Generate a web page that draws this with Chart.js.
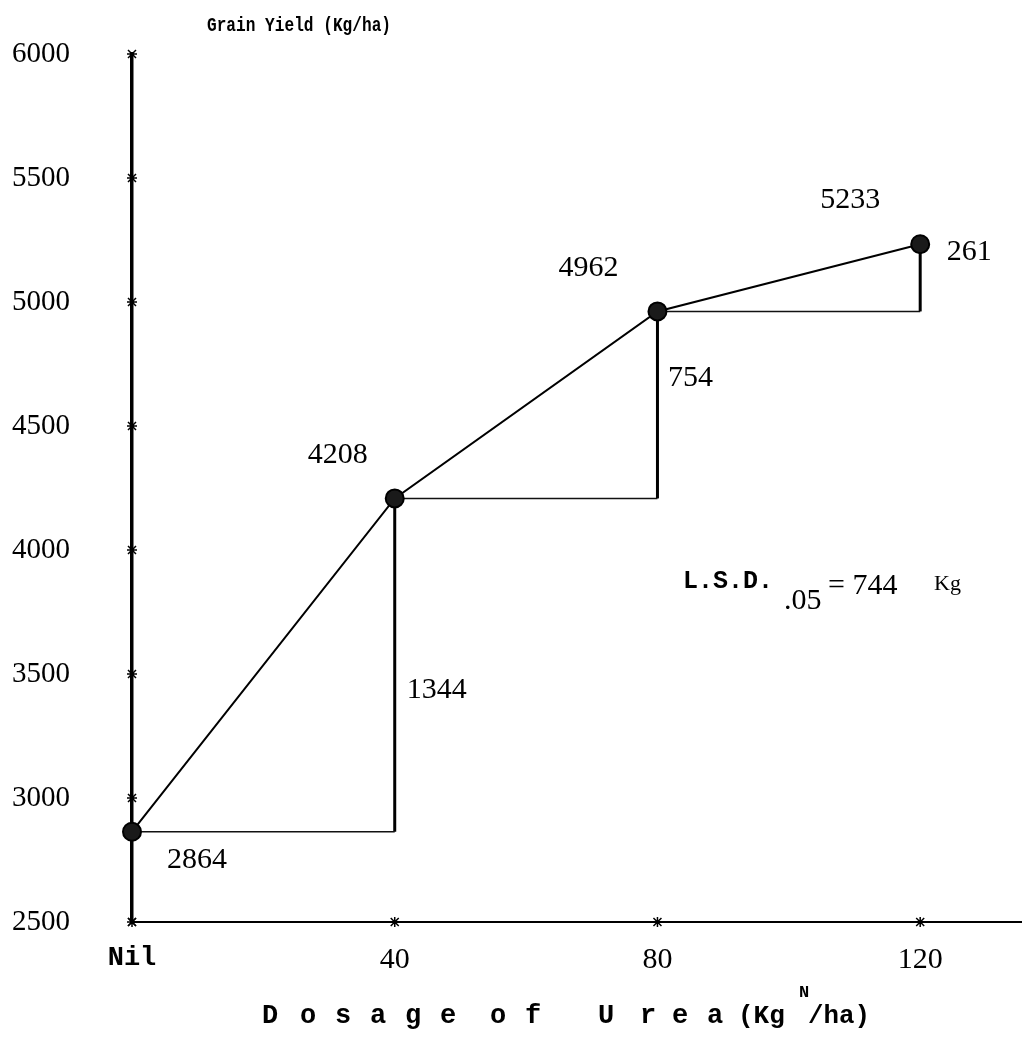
<!DOCTYPE html>
<html>
<head>
<meta charset="utf-8">
<script src="https://cdn.jsdelivr.net/npm/chart.js@4/dist/chart.umd.min.js"></script>
<style>
  html, body { margin: 0; padding: 0; background: #fff; overflow: hidden; }
  #wrap { width: 1022px; height: 1042px; }
  canvas { display: block; }
</style>
</head>
<body>
<div id="wrap"><canvas id="c" width="1022" height="1042"></canvas></div>
<script>
// ---- data ----
const categories = ['Nil', '40', '80', '120'];
const doses = [0, 40, 80, 120];
const yieldValues = [2864, 4208, 4962, 5233];
const increments = [1344, 754, 261];
const yTickValues = [2500, 3000, 3500, 4000, 4500, 5000, 5500, 6000];
const yAxisTitle = 'Grain Yield (Kg/ha)';
const lsdText = ['L.S.D.', '.05', '= 744', 'Kg'];

// ---- styling (not data) ----
const valueLabelOffsets = [[65, 28], [-57, -43], [-69, -43], [-70, -44]];
const incrementLabelOffsets = [[42, 25], [33, -27], [49, -26]];

const mainData = doses.map((d, i) => ({ x: d, y: yieldValues[i] }));
const stepDatasets = [];
for (let i = 0; i < doses.length - 1; i++) {
  stepDatasets.push({
    type: 'line',
    data: [{ x: doses[i], y: yieldValues[i] }, { x: doses[i + 1], y: yieldValues[i] }],
    borderColor: '#111', borderWidth: 1.5, pointRadius: 0, fill: false, tension: 0
  });
  stepDatasets.push({
    type: 'line',
    data: [{ x: doses[i + 1], y: yieldValues[i] }, { x: doses[i + 1], y: yieldValues[i + 1] }],
    borderColor: '#000', borderWidth: 3, pointRadius: 0, fill: false, tension: 0
  });
}

function drawFit(ctx, text, x, y, font, maxW, align) {
  ctx.save();
  ctx.font = font;
  const w = ctx.measureText(text).width;
  const s = maxW && w > maxW ? maxW / w : 1;
  ctx.translate(x, y);
  ctx.scale(s, 1);
  ctx.textAlign = align || 'left';
  ctx.fillText(text, 0, 0);
  ctx.restore();
}

const decorPlugin = {
  id: 'decor',
  afterDatasetsDraw(chart) {
    const ctx = chart.ctx;
    const xs = chart.scales.x, ys = chart.scales.y;
    const area = chart.chartArea;
    ctx.save();
    ctx.fillStyle = '#000';
    ctx.strokeStyle = '#000';
    ctx.lineWidth = 1.5;
    yTickValues.forEach(v => {
      const py = ys.getPixelForValue(v);
      const px = area.left;
      ctx.beginPath();
      ctx.moveTo(px - 5, py); ctx.lineTo(px + 5, py);
      ctx.moveTo(px - 4, py - 4); ctx.lineTo(px + 4, py + 4);
      ctx.moveTo(px + 4, py - 4); ctx.lineTo(px - 4, py + 4);
      ctx.stroke();
    });
    doses.forEach(d => {
      const px = xs.getPixelForValue(d);
      const py = area.bottom;
      ctx.beginPath();
      ctx.moveTo(px - 4, py - 4); ctx.lineTo(px + 4, py + 4);
      ctx.moveTo(px + 4, py - 4); ctx.lineTo(px - 4, py + 4);
      ctx.moveTo(px, py - 5); ctx.lineTo(px, py + 5);
      ctx.stroke();
    });
    ctx.textBaseline = 'middle';
    ctx.textAlign = 'center';
    ctx.font = '30px "Liberation Serif", serif';
    yieldValues.forEach((v, i) => {
      const px = xs.getPixelForValue(doses[i]);
      const py = ys.getPixelForValue(v);
      const o = valueLabelOffsets[i];
      ctx.fillText(String(v), px + o[0], py + o[1]);
    });
    increments.forEach((v, i) => {
      const px = xs.getPixelForValue(doses[i + 1]);
      const py = (ys.getPixelForValue(yieldValues[i]) + ys.getPixelForValue(yieldValues[i + 1])) / 2;
      const o = incrementLabelOffsets[i];
      ctx.fillText(String(v), px + o[0], py + o[1]);
    });
    ctx.restore();
  },
  afterDraw(chart) {
    const ctx = chart.ctx;
    ctx.save();
    ctx.fillStyle = '#000';
    ctx.textBaseline = 'alphabetic';
    drawFit(ctx, yAxisTitle, 207, 31, 'bold 21px "Liberation Mono", monospace', 184);
    const f = 'bold 27px "Liberation Mono", monospace';
    const letters = [['D', 262], ['o', 300], ['s', 335], ['a', 370], ['g', 405], ['e', 440],
                     ['o', 490], ['f', 525], ['U', 598], ['r', 640], ['e', 672], ['a', 707]];
    letters.forEach(([t, x]) => drawFit(ctx, t, x, 1023, f, 22));
    drawFit(ctx, '(Kg', 738, 1023, 'bold 26px "Liberation Mono", monospace', 52);
    drawFit(ctx, 'N', 799, 997, 'bold 17px "Liberation Mono", monospace', 12);
    drawFit(ctx, '/ha)', 808, 1023, 'bold 26px "Liberation Mono", monospace', 62);
    drawFit(ctx, lsdText[0], 683, 588, 'bold 25px "Liberation Mono", monospace', 98);
    drawFit(ctx, lsdText[1], 784, 609, '30px "Liberation Serif", serif');
    drawFit(ctx, lsdText[2], 828, 594, '30px "Liberation Serif", serif');
    drawFit(ctx, lsdText[3], 934, 590, '22px "Liberation Serif", serif');
    ctx.restore();
  }
};

function zeroPad(scale) {
  scale.paddingTop = 0; scale.paddingBottom = 0;
  scale.paddingLeft = 0; scale.paddingRight = 0;
}

new Chart(document.getElementById('c'), {
  type: 'line',
  data: {
    datasets: [
      {
        data: mainData,
        borderColor: '#000',
        borderWidth: 2,
        pointRadius: 9,
        pointHoverRadius: 9,
        pointBackgroundColor: '#1a1a1a',
        pointBorderColor: '#000',
        pointBorderWidth: 2,
        fill: false,
        tension: 0,
        clip: false
      },
      ...stepDatasets
    ]
  },
  options: {
    responsive: false,
    animation: false,
    devicePixelRatio: 1,
    layout: { autoPadding: false, padding: { top: 54, right: 0, bottom: 0, left: 0 } },
    plugins: { legend: { display: false }, tooltip: { enabled: false }, title: { display: false } },
    scales: {
      x: {
        type: 'linear',
        min: 0,
        max: 135.5,
        afterBuildTicks: (scale) => { scale.ticks = doses.map(v => ({ value: v })); },
        afterFit: (scale) => { scale.height = 120; zeroPad(scale); },
        grid: { display: true, color: 'transparent', drawTicks: false, drawOnChartArea: false },
        border: { display: true, color: '#000', width: 2 },
        ticks: {
          padding: 20,
          color: '#000',
          autoSkip: false,
          maxRotation: 0,
          callback: (v) => categories[doses.indexOf(v)],
          font: (c) => (c.tick && c.tick.value === 0)
            ? { family: '"Liberation Mono", monospace', size: 27, weight: 'bold' }
            : { family: '"Liberation Serif", serif', size: 30 }
        }
      },
      y: {
        type: 'linear',
        min: 2500,
        max: 6000,
        afterBuildTicks: (scale) => { scale.ticks = yTickValues.map(v => ({ value: v })); },
        afterFit: (scale) => { scale.width = 132; zeroPad(scale); },
        grid: { display: true, color: 'transparent', drawTicks: false, drawOnChartArea: false },
        border: { display: true, color: '#000', width: 3.5 },
        ticks: {
          padding: 62,
          color: '#000',
          autoSkip: false,
          callback: (v) => String(v),
          font: { family: '"Liberation Serif", serif', size: 29 }
        }
      }
    }
  },
  plugins: [decorPlugin]
});
</script>
</body>
</html>
